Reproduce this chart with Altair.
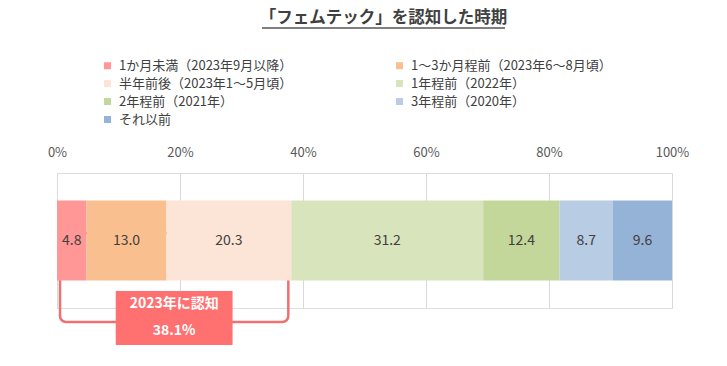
import altair as alt
import pandas as pd

# ---- data ----
categories = [
    "1か月未満（2023年9月以降）",
    "1～3か月程前（2023年6～8月頃）",
    "半年前後（2023年1～5月頃）",
    "1年程前（2022年）",
    "2年程前（2021年）",
    "3年程前（2020年）",
    "それ以前",
]
values = [4.8, 13.0, 20.3, 31.2, 12.4, 8.7, 9.6]
colors = ["#FF9797", "#FABF8F", "#FCE4D6", "#D8E4BC", "#C4D79B", "#B8CCE4", "#95B3D7"]
tick_values = [0, 20, 40, 60, 80, 100]
title_text = "「フェムテック」を認知した時期"
box_title = "2023年に認知"
n_2023 = 3  # first three categories are "recognized in 2023"

# legend is filled column by column, so reorder to read row by row
legend_order = [0, 2, 4, 6, 1, 3, 5]
legend_domain = [categories[i] for i in legend_order]
legend_range = [colors[i] for i in legend_order]

FONT = "Noto Sans CJK JP"
TEXT = "#404040"
RED_BOX = "#FF7171"
RED_LINE = "#EE7070"

df = pd.DataFrame({"category": categories, "value": values, "order": list(range(len(values)))})

xscale = alt.Scale(domain=[0, 100], nice=False, zero=True)
base = alt.Chart(df)

stacked = base.transform_window(
    cum="sum(value)", sort=[alt.SortField("order")], frame=[None, 0]
).transform_calculate(
    start="datum.cum - datum.value",
    mid="datum.cum - datum.value / 2",
    row="'all'",
)

yband = alt.Y("row:N", axis=None, scale=alt.Scale(paddingInner=0, paddingOuter=0.345))

# bracket (drawn first, top edge hidden behind the bar)
total = base.transform_filter(alt.datum.order < n_2023).transform_aggregate(
    total="sum(value)"
).transform_calculate(
    zero="0",
    half="datum.total / 2",
    bl="datum.total / 2 - 9.5",
    br="datum.total / 2 + 9.5",
    label="format(datum.total, '.1f') + '%'",
)

bracket = total.mark_rect(
    fillOpacity=0, stroke=RED_LINE, strokeWidth=2.5, cornerRadius=6,
    xOffset=3, x2Offset=-3,
).encode(
    x=alt.X("zero:Q", scale=xscale),
    x2="total:Q",
    y=alt.value(60),
    y2=alt.value(149),
)

bars = stacked.mark_bar().encode(
    x=alt.X(
        "start:Q",
        scale=xscale,
        axis=alt.Axis(
            orient="top", values=tick_values, labelExpr="datum.value + '%'",
            domain=False, ticks=False, grid=True, gridColor="#D9D9D9",
            labelPadding=14, labelFontSize=13, labelColor="#595959",
            labelFont=FONT, title=None, labelFlush=False,
        ),
    ),
    x2="cum:Q",
    y=yband,
    color=alt.Color(
        "category:N",
        scale=alt.Scale(domain=legend_domain, range=legend_range),
        legend=alt.Legend(
            title=None, orient="none", legendX=44, legendY=-114, columns=2,
            columnPadding=73, rowPadding=4, gridAlign="all",
            symbolType="square", symbolSize=49, symbolStrokeWidth=0,
            labelFontSize=13, labelFont=FONT, labelColor=TEXT,
            labelLimit=0, labelOffset=5, padding=0,
        ),
    ),
)

labels = stacked.mark_text(fontSize=14, font=FONT, color=TEXT).encode(
    x=alt.X("mid:Q", scale=xscale),
    y=yband,
    text=alt.Text("value:Q", format=".1f"),
)

box = total.mark_rect(color=RED_BOX).encode(
    x=alt.X("bl:Q", scale=xscale),
    x2="br:Q",
    y=alt.value(118),
    y2=alt.value(172),
)
box_t1 = total.mark_text(fontSize=14, fontWeight="bold", color="white", font=FONT).encode(
    x=alt.X("half:Q", scale=xscale), y=alt.value(131), text=alt.value(box_title)
)
box_t2 = total.mark_text(fontSize=14, fontWeight="bold", color="white", font=FONT).encode(
    x=alt.X("half:Q", scale=xscale), y=alt.value(158), text="label:N"
)

underline = base.mark_rule(color="#7F7F7F", strokeWidth=1.5).encode(
    x=alt.value(205), x2=alt.value(448), y=alt.value(-145)
)

chart = alt.layer(bracket, bars, labels, box, box_t1, box_t2, underline).properties(
    width=615,
    height=135,
    autosize=alt.AutoSizeParams(type="none"),
    padding={"left": 49, "top": 165, "right": 47, "bottom": 45},
    title=alt.TitleParams(
        title_text, fontSize=16.5, fontWeight="bold", color=TEXT, font=FONT,
        anchor="middle", dx=19, offset=1,
    ),
).configure_view(stroke=None).configure(font=FONT)

chart.save("out.html", embed_options={"renderer": "svg", "actions": False})
